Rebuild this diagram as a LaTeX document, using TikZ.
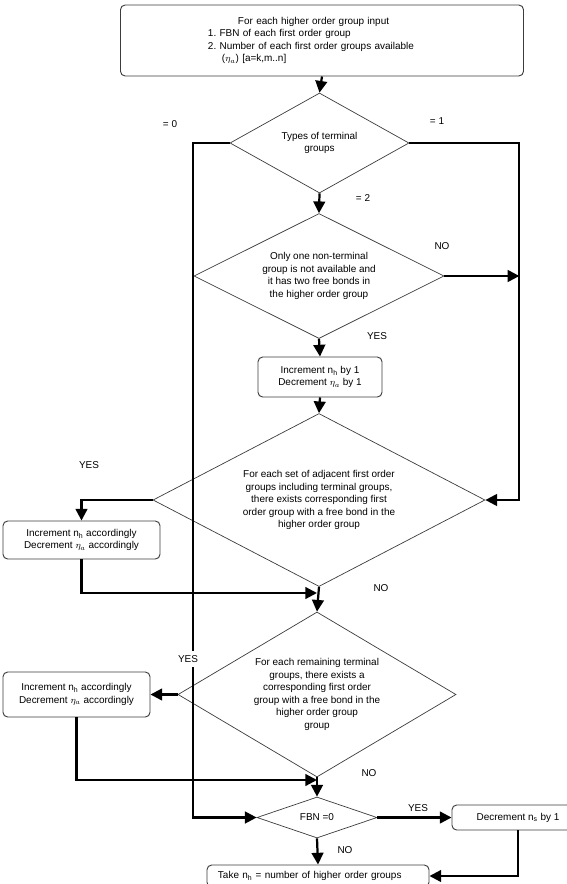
\documentclass[tikz,border=0pt]{standalone}
\usepackage{fontspec}
\setmainfont{Liberation Sans}
\usetikzlibrary{shapes.geometric,arrows.meta}
\definecolor{edgeGray}{RGB}{60,60,60}

\begin{document}
\begin{tikzpicture}[x=0.03cm,y=-0.03cm,
  font=\fontsize{8.5}{10.7}\selectfont\frenchspacing,
  decision/.style={diamond,draw=edgeGray,line width=0.6pt,inner sep=0pt,align=center},
  procbox/.style={rectangle,rounded corners=4pt,draw=edgeGray,line width=0.8pt,inner sep=0pt,align=center},
  flow/.style={line width=1.9pt,-{Triangle[length=10pt,width=10pt]}},
  lbl/.style={inner sep=1pt}]
\path[use as bounding box] (0,0) rectangle (567,884);
\clip (0,0) rectangle (567,884);

% Entrée
\node[procbox,minimum width=12.09cm,minimum height=2.13cm,text width=6.84cm,align=left] (input) at (322,40.5) {\hspace*{0.9cm}For each higher order group input\\
1. FBN of each first order group\\
2. Number of each first order groups available\\
\hspace*{0.42cm}($\eta_a$) [a=k,m..n]};

% Décisions
\node[decision,aspect=1.79,minimum width=5.37cm,minimum height=3.0cm] (types) at (319.5,143) {Types of terminal\\ groups};
\node[decision,aspect=2.0,minimum width=7.5cm,minimum height=3.75cm] (onlyone) at (319,276) {Only one non-terminal\\ group is not available and\\ it has two free bonds in\\ the higher order group};
\node[procbox,minimum width=3.72cm,minimum height=1.2cm] (incone) at (320,377) {Increment n\textsubscript{h} by 1\\ Decrement $\eta_a$ by 1};
\node[decision,aspect=1.92,minimum width=9.96cm,minimum height=5.19cm] (adjacent) at (319,500) {For each set of adjacent first order\\ groups including terminal groups,\\ there exists corresponding first\\ order group with a free bond in the\\ higher order group};
\node[procbox,minimum width=4.71cm,minimum height=1.14cm] (incadj) at (81.5,540) {Increment n\textsubscript{h} accordingly\\ Decrement $\eta_a$ accordingly};
\node[decision,aspect=1.68,minimum width=8.34cm,minimum height=4.95cm] (remaining) at (317,694.5) {For each remaining terminal\\ groups, there exists a\\ corresponding first order\\ group with a free bond in the\\ higher order group\\ group};
\node[procbox,minimum width=4.41cm,minimum height=1.35cm] (increm) at (76.5,694.5) {Increment n\textsubscript{h} accordingly\\ Decrement $\eta_a$ accordingly};
\node[decision,aspect=2.93,minimum width=3.6cm,minimum height=1.23cm] (fbn) at (317,817.5) {FBN =0};
\node[procbox,minimum width=3.96cm,minimum height=0.75cm] (dec) at (518,817.5) {Decrement n\textsubscript{s} by 1};
\node[procbox,minimum width=6.66cm,minimum height=0.66cm,text width=6.0cm,align=left] (take) at (318,876) {Take n\textsubscript{h} = number of higher order groups};

% Liaisons
\coordinate (joinadj) at (317,593);
\coordinate (joinrem) at (317,780);
\draw[flow] (input.south) -- (types.north);
\draw[flow] (types.south) -- (onlyone.north);
\draw[flow] (types.west) -- ++(-37,0) |- (fbn.west);
\draw[flow] (types.east) -- ++(110,0) |- (adjacent.east);
\draw[flow] (onlyone.east) -- ++(75,0);
\draw[flow] (onlyone.south) -- (incone.north);
\draw[flow] (incone.south) -- (adjacent.north);
\draw[flow] (adjacent.west) -| (incadj.north);
\draw[flow] (incadj.south) |- (joinadj);
\draw[flow] (adjacent.south) -- (remaining.north);
\draw[flow] (remaining.west) -- (increm.east);
\draw[flow] (increm.south) |- (joinrem);
\draw[flow] (remaining.south) -- (fbn.north);
\draw[flow] (fbn.east) -- (dec.west);
\draw[flow] (fbn.south) -- (take.north);
\draw[flow] (dec.south) |- (take.east);

% Étiquettes
\node[lbl] (eqzero) at (170,124) {= 0};
\node[lbl] (eqone) at (437,121) {= 1};
\node[lbl] (eqtwo) at (363,198) {= 2};
\node[lbl] (noone) at (442,246) {NO};
\node[lbl] (yesone) at (377,336) {YES};
\node[lbl] (yesadj) at (89,465) {YES};
\node[lbl] (noadj) at (381,588) {NO};
\node[lbl,fill=white,inner ysep=4pt] (yesrem) at (188,659) {YES};
\node[lbl] (norem) at (369,773) {NO};
\node[lbl] (yesfbn) at (418,808) {YES};
\node[lbl] (nofbn) at (345,850) {NO};
\end{tikzpicture}
\end{document}
